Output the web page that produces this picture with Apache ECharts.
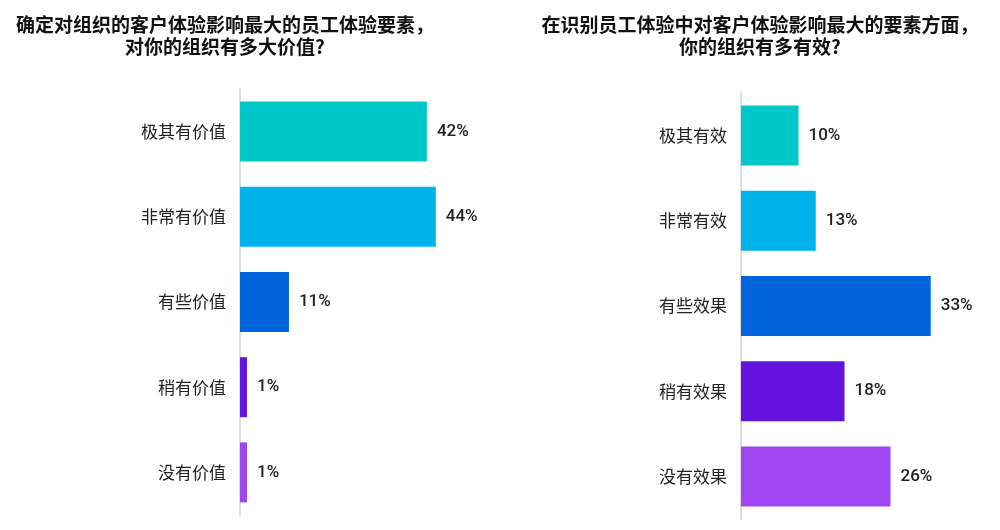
<!DOCTYPE html>
<html><head><meta charset="utf-8">
<script src="https://cdn.jsdelivr.net/npm/echarts@6/dist/echarts.min.js"></script>
<style>html,body{margin:0;padding:0;background:#fff}#c{width:1000px;height:530px}</style>
</head><body><div id="c"></div>
<script>
const leftTitle = "确定对组织的客户体验影响最大的员工体验要素，\n对你的组织有多大价值?";
const rightTitle = "在识别员工体验中对客户体验影响最大的要素方面，\n你的组织有多有效?";
const leftCategories = ["极其有价值", "非常有价值", "有些价值", "稍有价值", "没有价值"];
const leftValues = [42, 44, 11, 1, 1];
const rightCategories = ["极其有效", "非常有效", "有些效果", "稍有效果", "没有效果"];
const rightValues = [10, 13, 33, 18, 26];
const colors = ["#00C8C8", "#00B4EB", "#0064DC", "#6414DC", "#A046F0"];

const FONT = "'Noto Sans CJK SC', 'Noto Sans', sans-serif";
const chart = echarts.init(document.getElementById('c'));

function mkData(vals) {
  return vals.map((v, i) => ({ value: v, itemStyle: { color: colors[i] } }));
}
const catAxis = (cats, gi) => ({
  type: 'category', gridIndex: gi, data: cats, inverse: true,
  axisLine: { show: true, lineStyle: { color: '#dddddd', width: 2 } },
  axisTick: { show: false },
  axisLabel: { color: '#222', fontSize: 17, fontFamily: FONT, margin: 14 }
});
const valAxis = (max, gi) => ({
  type: 'value', gridIndex: gi, min: 0, max: max, show: false,
  splitLine: { show: false }
});
const labelCfg = {
  show: true, position: 'right', distance: 10,
  formatter: '{c}%', color: '#222', fontSize: 17, fontWeight: 500,
  fontFamily: "Roboto, 'Noto Sans', sans-serif"
};

chart.setOption({
  animation: false,
  title: [
    { text: leftTitle, left: 220, top: 9, textAlign: 'center',
      textStyle: { fontSize: 19, fontWeight: 'bold', color: '#111', fontFamily: FONT, lineHeight: 22 } },
    { text: rightTitle, left: 755, top: 9, textAlign: 'center',
      textStyle: { fontSize: 19, fontWeight: 'bold', color: '#111', fontFamily: FONT, lineHeight: 22 } }
  ],
  grid: [
    { left: 240, top: 89, width: 267, height: 426 },
    { left: 741, top: 93, width: 230, height: 426 }
  ],
  xAxis: [valAxis(60, 0), valAxis(40, 1)],
  yAxis: [catAxis(leftCategories, 0), catAxis(rightCategories, 1)],
  series: [
    { type: 'bar', xAxisIndex: 0, yAxisIndex: 0, data: mkData(leftValues),
      barWidth: 60, barMinHeight: 7, label: labelCfg },
    { type: 'bar', xAxisIndex: 1, yAxisIndex: 1, data: mkData(rightValues),
      barWidth: 60, label: labelCfg }
  ]
});
</script></body></html>
